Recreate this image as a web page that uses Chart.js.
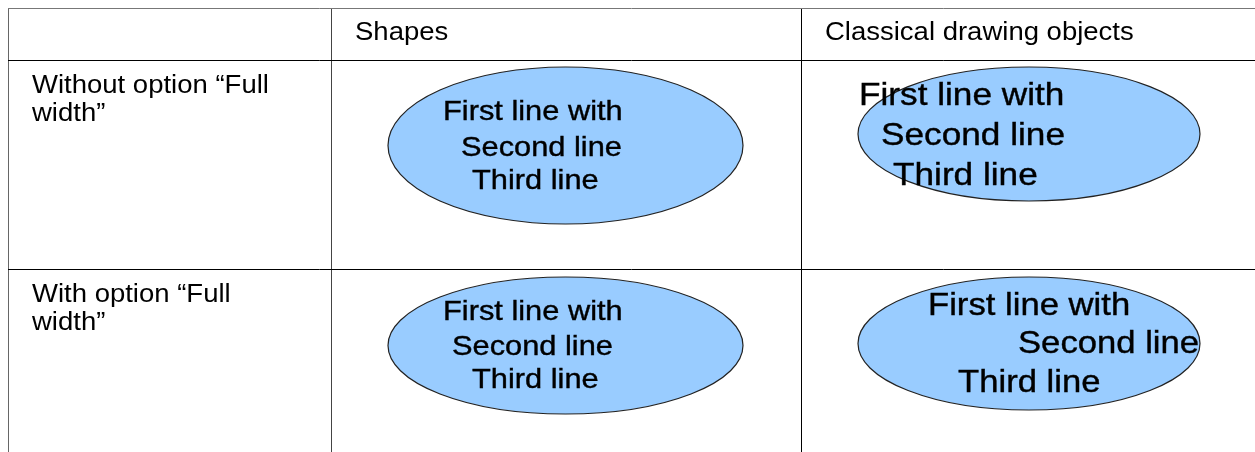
<!DOCTYPE html>
<html>
<head>
<meta charset="utf-8">
<script src="https://cdn.jsdelivr.net/npm/chart.js@4/dist/chart.umd.min.js"></script>
<style>
  body { margin: 0; background: #fff; }
  #wrap { width: 1255px; height: 452px; position: relative; }
</style>
</head>
<body>
<div id="wrap"><canvas id="myChart"></canvas></div>
<script>
// table content
let columnTitles = ['', 'Shapes', 'Classical drawing objects'];
let rowTitles = [['Without option \u201cFull', 'width\u201d'], ['With option \u201cFull', 'width\u201d']];
let shapeLines = ['First line with', 'Second line', 'Third line'];

// layout in page units (x scale 8..1255, y scale 8..452)
let colEdges = [8, 331, 801];
let rowEdges = [8, 60, 269];
let headerPos = [[32, 40], [355, 40], [825, 40]];
let rowTitlePos = [[32, 93], [32, 302]];
let rowLineGap = 28;

// ellipse per body cell: center, radii, font size, text anchors
let cells = [
  { cx: 565.5, cy: 145.5, rx: 177.5, ry: 78.5, size: 28, lines: [[443, 120], [461, 156], [472, 189]] },
  { cx: 1029, cy: 134, rx: 171, ry: 67, size: 32, lines: [[859, 105], [881, 145], [893, 185]] },
  { cx: 565.5, cy: 345.5, rx: 177.5, ry: 68.5, size: 28, lines: [[443, 320], [452, 355], [472, 388]] },
  { cx: 1029, cy: 343.5, rx: 171, ry: 66.5, size: 31.5, lines: [[928, 315], [1018, 353], [958, 392]] }
];

let stretch = 1.1;
let fontName = '"Liberation Sans", Arial, sans-serif';

function drawText(ctx, str, x, y, size, heavy) {
  ctx.save();
  ctx.translate(x, y);
  ctx.scale(stretch, 1);
  ctx.font = size + 'px ' + fontName;
  ctx.fillStyle = '#000';
  ctx.textBaseline = 'alphabetic';
  ctx.textAlign = 'left';
  ctx.fillText(str, 0, 0);
  if (heavy) {
    ctx.lineWidth = 0.4;
    ctx.strokeStyle = '#000';
    ctx.strokeText(str, 0, 0);
  }
  ctx.restore();
}

const tablePlugin = {
  id: 'tablePlugin',
  afterDatasetsDraw(chart) {
    let ctx = chart.ctx;
    let xs = chart.scales.x;
    let ys = chart.scales.y;
    let meta = chart.getDatasetMeta(0);

    for (let i = 0; i < cells.length; i++) {
      let pt = meta.data[i];
      let rx = xs.getPixelForValue(cells[i].cx + cells[i].rx) - pt.x;
      let ry = ys.getPixelForValue(cells[i].cy + cells[i].ry) - pt.y;
      ctx.save();
      ctx.beginPath();
      ctx.ellipse(pt.x, pt.y, Math.abs(rx), Math.abs(ry), 0, 0, Math.PI * 2);
      ctx.fillStyle = '#99ccff';
      ctx.fill();
      ctx.lineWidth = 1.2;
      ctx.strokeStyle = '#222';
      ctx.stroke();
      ctx.restore();

      for (let j = 0; j < shapeLines.length; j++) {
        let p = cells[i].lines[j];
        drawText(ctx, shapeLines[j], xs.getPixelForValue(p[0]), ys.getPixelForValue(p[1]), cells[i].size, true);
      }
    }

    for (let c = 0; c < columnTitles.length; c++) {
      if (columnTitles[c]) {
        drawText(ctx, columnTitles[c], xs.getPixelForValue(headerPos[c][0]), ys.getPixelForValue(headerPos[c][1]), 25, false);
      }
    }
    for (let r = 0; r < rowTitles.length; r++) {
      for (let k = 0; k < rowTitles[r].length; k++) {
        let px = xs.getPixelForValue(rowTitlePos[r][0]);
        let py = ys.getPixelForValue(rowTitlePos[r][1] + k * rowLineGap);
        drawText(ctx, rowTitles[r][k], px, py, 25, false);
      }
    }
  }
};

const data = {
  datasets: [{
    label: 'ellipses',
    data: cells.map(c => ({ x: c.cx, y: c.cy })),
    pointRadius: 0,
    pointHoverRadius: 0,
    showLine: false
  }]
};

const config = {
  type: 'scatter',
  data: data,
  options: {
    responsive: true,
    maintainAspectRatio: false,
    animation: false,
    events: [],
    layout: { padding: { left: 8, top: 8, right: 0, bottom: 0 } },
    plugins: {
      legend: { display: false },
      tooltip: { enabled: false }
    },
    scales: {
      x: {
        type: 'linear',
        min: 8,
        max: 1255,
        afterBuildTicks: scale => { scale.ticks = colEdges.map(v => ({ value: v })); },
        ticks: { display: false },
        border: { display: false },
        grid: {
          drawTicks: false,
          lineWidth: 1,
          color: ctx => ctx.index === 0 ? '#666' : (ctx.index === 1 ? '#444' : '#000')
        }
      },
      y: {
        type: 'linear',
        reverse: true,
        min: 8,
        max: 452,
        afterBuildTicks: scale => { scale.ticks = rowEdges.map(v => ({ value: v })); },
        ticks: { display: false },
        border: { display: false },
        grid: {
          drawTicks: false,
          lineWidth: 1,
          color: ctx => ctx.index === 0 ? '#777' : '#000'
        }
      }
    }
  },
  plugins: [tablePlugin]
};

let canvasChart = document.getElementById('myChart');
new Chart(canvasChart, config);
</script>
</body>
</html>
